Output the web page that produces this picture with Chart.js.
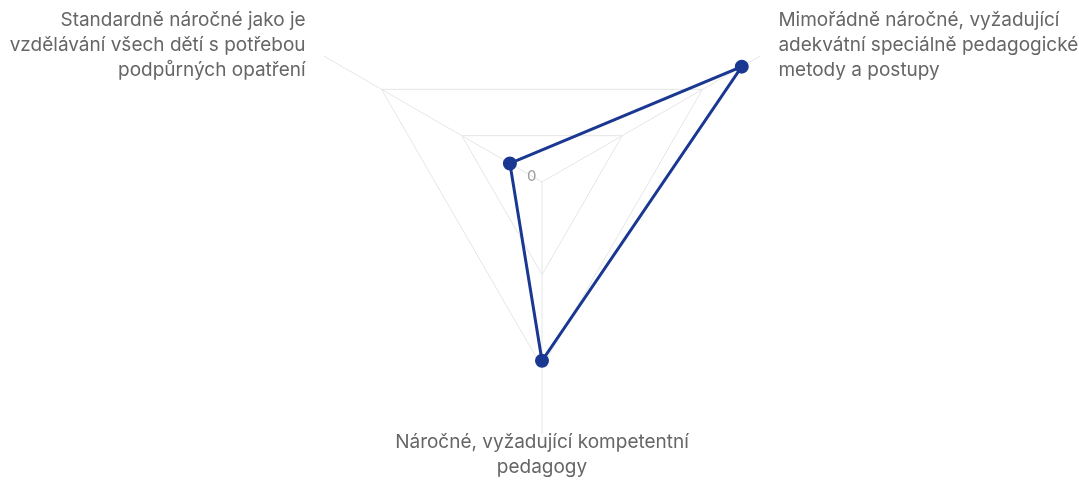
<!DOCTYPE html>
<html>
<head>
<meta charset="utf-8">
<script src="https://cdn.jsdelivr.net/npm/chart.js@4/dist/chart.umd.min.js"></script>
<style>
  html, body { margin: 0; padding: 0; background: #fff; overflow: hidden; }
  #wrap { width: 1079px; height: 551px; margin-top: -70px; }
</style>
</head>
<body>
<div id="wrap"><canvas id="myChart"></canvas></div>
<script>
// axis labels (clockwise from top-left)
var labels = [
    ['Standardně náročné jako je', 'vzdělávání všech dětí s potřebou', 'podpůrných opatření'],
    ['Mimořádně náročné, vyžadující', 'adekvátní speciálně pedagogické', 'metody a postupy'],
    ['Náročné, vyžadující kompetentní', 'pedagogy']
];
var values = [0.4, 2.49, 1.93];
var scaleMax = 2.72;
var tickZero = '0';

// point labels + "0" tick label, centred on their anchors
var labelPlugin = {
    id: 'labelPlugin',
    afterDraw: function (chart) {
        var scale = chart.scales.r;
        var ctx = chart.ctx;
        ctx.save();
        ctx.font = '19px Inter';
        ctx.fillStyle = '#666666';
        ctx.textBaseline = 'middle';
        var lh = 25;
        labels.forEach(function (lines, i) {
            var p = scale.getPointPosition(i, scale.drawingArea + 21);
            var dx = p.x - scale.xCenter;
            ctx.textAlign = Math.abs(dx) < 2 ? 'center' : (dx < 0 ? 'right' : 'left');
            var y0 = p.y - (lines.length - 1) * lh / 2;
            lines.forEach(function (line, j) {
                ctx.fillText(line, p.x, y0 + j * lh);
            });
        });
        var z = scale.getPointPosition(0, 12);
        ctx.font = '15px Inter';
        ctx.fillStyle = '#9a9a9a';
        ctx.textAlign = 'center';
        ctx.fillText(tickZero, z.x, z.y);
        ctx.restore();
    }
};

var ctx = document.getElementById('myChart').getContext('2d');
var myChart = new Chart(ctx, {
    type: 'radar',
    data: {
        labels: labels,
        datasets: [{
            data: values,
            borderColor: '#1a3792',
            backgroundColor: 'rgba(0,0,0,0)',
            pointBackgroundColor: '#1a3792',
            pointBorderColor: '#1a3792',
            pointRadius: 5.5,
            borderWidth: 3,
            fill: false
        }]
    },
    options: {
        responsive: true,
        maintainAspectRatio: false,
        animation: false,
        layout: {
            padding: { top: 0, bottom: 47, left: 5, right: 0 }
        },
        plugins: {
            legend: { display: false },
            tooltip: { enabled: false }
        },
        scales: {
            r: {
                min: 0,
                max: scaleMax,
                startAngle: -60,
                ticks: { stepSize: 1, display: false, includeBounds: false },
                grid: { color: '#e6e6e6', lineWidth: 1 },
                angleLines: { color: '#e6e6e6', lineWidth: 1 },
                pointLabels: { display: false }
            }
        }
    },
    plugins: [labelPlugin]
});
</script>
</body>
</html>
